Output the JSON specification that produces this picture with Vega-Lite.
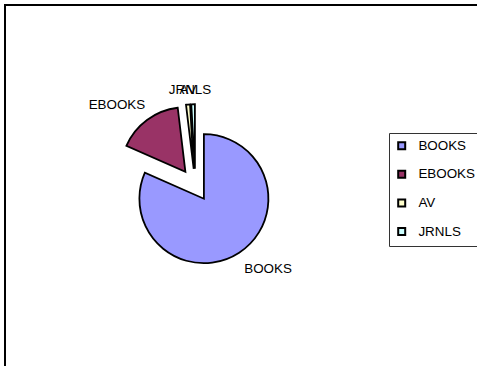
{
  "$schema": "https://vega.github.io/schema/vega-lite/v6.json",
  "width": 480,
  "height": 370,
  "autosize": {"type": "none"},
  "padding": {"left": 5, "top": 5, "right": 0, "bottom": 0},
  "background": "white",
  "config": {
    "view": {"stroke": "#000", "strokeWidth": 2},
    "font": "Liberation Sans",
    "legend": {
      "orient": "none",
      "legendX": 384,
      "legendY": 128,
      "symbolType": "square",
      "symbolSize": 49,
      "symbolStrokeColor": "#000",
      "symbolStrokeWidth": 2,
      "labelFontSize": 13.4,
      "labelFont": "Liberation Sans",
      "labelColor": "#000",
      "strokeColor": "#333",
      "fillColor": "#fff",
      "padding": 6,
      "rowPadding": 12.6,
      "labelOffset": 10
    }
  },
  "data": {"values": [
    {"cat": "BOOKS", "value": 81.6, "order": 1},
    {"cat": "EBOOKS", "value": 16.5, "order": 2},
    {"cat": "AV", "value": 1.0, "order": 3},
    {"cat": "JRNLS", "value": 0.9, "order": 4}
  ]},
  "transform": [
    {"stack": "value", "groupby": [], "sort": [{"field": "order", "order": "ascending"}], "as": ["v0", "v1"]}
  ],
  "encoding": {
    "x": {"datum": 0, "type": "quantitative", "scale": {"domain": [-190, 290], "nice": false, "zero": false}, "axis": null},
    "y": {"datum": 0, "type": "quantitative", "scale": {"domain": [-190, 180], "nice": false, "zero": false}, "axis": null}
  },
  "layer": [
    {
      "transform": [{"filter": "datum.cat === 'BOOKS'"}],
      "mark": {"type": "arc", "radius": 64.5, "stroke": "#000", "strokeWidth": 1.8, "xOffset": 8.9, "yOffset": 13.7},
      "encoding": {
        "theta": {"field": "v0", "type": "quantitative", "scale": {"domain": [0, 100]}},
        "theta2": {"field": "v1"},
        "color": {"field": "cat", "type": "nominal", "title": null, "scale": {"domain": ["BOOKS", "EBOOKS", "AV", "JRNLS"], "range": ["#9999FF", "#993366", "#FFFFCC", "#CCFFFF"]}}
      }
    },
    {
      "transform": [{"filter": "datum.cat === 'EBOOKS'"}],
      "mark": {"type": "arc", "radius": 64.5, "stroke": "#000", "strokeWidth": 1.8, "xOffset": -9.6, "yOffset": -13.2},
      "encoding": {
        "theta": {"field": "v0", "type": "quantitative", "scale": {"domain": [0, 100]}},
        "theta2": {"field": "v1"},
        "color": {"field": "cat", "type": "nominal", "title": null}
      }
    },
    {
      "transform": [{"filter": "datum.cat === 'AV'"}],
      "mark": {"type": "arc", "radius": 64.5, "stroke": "#000", "strokeWidth": 1.8, "xOffset": -1.3, "yOffset": -16.2},
      "encoding": {
        "theta": {"field": "v0", "type": "quantitative", "scale": {"domain": [0, 100]}},
        "theta2": {"field": "v1"},
        "color": {"field": "cat", "type": "nominal", "title": null}
      }
    },
    {
      "transform": [{"filter": "datum.cat === 'JRNLS'"}],
      "mark": {"type": "arc", "radius": 64.5, "stroke": "#000", "strokeWidth": 1.8, "xOffset": -0.1, "yOffset": -16.3},
      "encoding": {
        "theta": {"field": "v0", "type": "quantitative", "scale": {"domain": [0, 100]}},
        "theta2": {"field": "v1"},
        "color": {"field": "cat", "type": "nominal", "title": null}
      }
    },
    {
      "mark": {"type": "text", "radius": 100, "dx": 18.4, "fontSize": 13.4, "font": "Liberation Sans", "color": "#000", "baseline": "middle"},
      "encoding": {
        "theta": {"field": "value", "type": "quantitative", "stack": true, "scale": {"domain": [0, 100]}},
        "order": {"field": "order"},
        "detail": {"field": "cat"},
        "text": {"condition": {"test": "datum.cat === 'BOOKS'", "field": "cat"}, "value": ""}
      }
    },
    {
      "mark": {"type": "text", "radius": 99.5, "dx": -18.8, "fontSize": 13.4, "font": "Liberation Sans", "color": "#000", "baseline": "middle"},
      "encoding": {
        "theta": {"field": "value", "type": "quantitative", "stack": true, "scale": {"domain": [0, 100]}},
        "order": {"field": "order"},
        "detail": {"field": "cat"},
        "text": {"condition": {"test": "datum.cat === 'EBOOKS'", "field": "cat"}, "value": ""}
      }
    },
    {
      "mark": {"type": "text", "radius": 95.4, "dx": 1.3, "fontSize": 13.4, "font": "Liberation Sans", "color": "#000", "baseline": "middle"},
      "encoding": {
        "theta": {"field": "value", "type": "quantitative", "stack": true, "scale": {"domain": [0, 100]}},
        "order": {"field": "order"},
        "detail": {"field": "cat"},
        "text": {"condition": {"test": "datum.cat === 'AV'", "field": "cat"}, "value": ""}
      }
    },
    {
      "mark": {"type": "text", "radius": 95, "dx": -2.3, "fontSize": 13.4, "font": "Liberation Sans", "color": "#000", "baseline": "middle"},
      "encoding": {
        "theta": {"field": "value", "type": "quantitative", "stack": true, "scale": {"domain": [0, 100]}},
        "order": {"field": "order"},
        "detail": {"field": "cat"},
        "text": {"condition": {"test": "datum.cat === 'JRNLS'", "field": "cat"}, "value": ""}
      }
    }
  ]
}
